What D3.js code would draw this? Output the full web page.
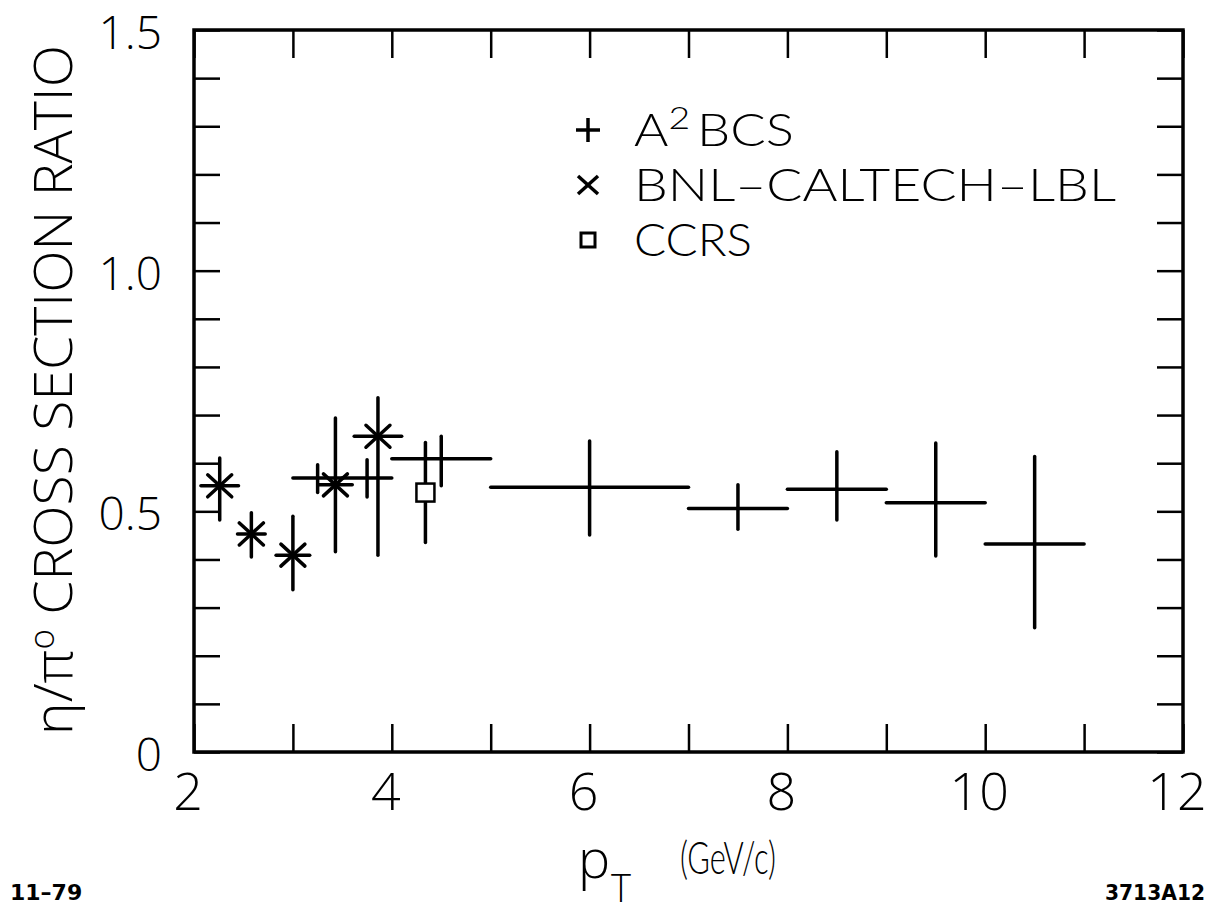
<!DOCTYPE html>
<html><head><meta charset="utf-8">
<script src="https://cdn.jsdelivr.net/npm/d3@7"></script>
<style>html,body{margin:0;padding:0;background:#fff;}svg{display:block;}</style>
</head><body>
<script>
// ---- data ----
const xTicks = [2,3,4,5,6,7,8,9,10,11,12];
const xTickLabels = [2,4,6,8,10,12];
const yTickLabels = [0,0.5,1.0,1.5];
const yTicks = d3.range(0,1.5001,0.1);

// A2BCS
const a2X   = [3.25, 3.75, 4.5, 6.0, 7.5, 8.5, 9.5, 10.5];
const a2XLo = [3.0, 3.5, 4.0, 5.0, 7.0, 8.0, 9.0, 10.0];
const a2XHi = [3.5, 4.0, 5.0, 7.0, 8.0, 9.0, 10.0, 11.0];
const a2Y   = [0.569, 0.569, 0.609, 0.550, 0.506, 0.546, 0.518, 0.432];
const a2YLo = [0.539, 0.530, 0.553, 0.451, 0.463, 0.482, 0.407, 0.258];
const a2YHi = [0.597, 0.607, 0.656, 0.646, 0.555, 0.624, 0.642, 0.614];

// BNL-CALTECH-LBL
const bnlX   = [2.26, 2.58, 3.00, 3.43, 3.86];
const bnlXErr= [0.19, 0.14, 0.17, 0.17, 0.24];
const bnlY   = [0.553, 0.453, 0.409, 0.555, 0.656];
const bnlYLo = [0.482, 0.405, 0.337, 0.416, 0.409];
const bnlYHi = [0.611, 0.497, 0.490, 0.694, 0.736];

// CCRS
const ccX   = [4.34];
const ccY   = [0.539];
const ccYLo = [0.435];
const ccYHi = [0.643];

const legendLabels = ["A2BCS","BNL\u2013CALTECH\u2013LBL","CCRS"];

// ---- drawing ----
const W=1219,H=921;
const svg=d3.select("body").append("svg").attr("width",W).attr("height",H);
const x=d3.scaleLinear().domain([2,12]).range([194,1183]);
const y=d3.scaleLinear().domain([0,1.5]).range([752,30]);
const FONT="'Open Sans','DejaVu Sans', sans-serif";
const LFONT="Lato,'Open Sans', sans-serif";
const FW=300;
const ink="#000";

// ticks via axes (inward)
function styleTicks(g){g.select(".domain").remove();g.selectAll("line").attr("stroke",ink).attr("stroke-width",2.5);}
svg.append("g").attr("transform",`translate(0,${y(0)})`)
  .call(d3.axisBottom(x).tickValues(xTicks).tickSize(-28).tickFormat("")).call(styleTicks);
svg.append("g").attr("transform",`translate(0,${y(1.5)})`)
  .call(d3.axisTop(x).tickValues(xTicks).tickSize(-28).tickFormat("")).call(styleTicks);
svg.append("g").attr("transform",`translate(${x(2)},0)`)
  .call(d3.axisLeft(y).tickValues(yTicks).tickSize(-26).tickFormat("")).call(styleTicks);
svg.append("g").attr("transform",`translate(${x(12)},0)`)
  .call(d3.axisRight(y).tickValues(yTicks).tickSize(-26).tickFormat("")).call(styleTicks);

// frame
svg.append("rect").attr("x",x(2)).attr("y",y(1.5)).attr("width",x(12)-x(2)).attr("height",y(0)-y(1.5))
  .attr("fill","none").attr("stroke",ink).attr("stroke-width",3.5);

// tick labels
svg.selectAll(".xl").data(xTickLabels).enter().append("text")
  .attr("x",d=>x(d)-6).attr("y",y(0)+58).attr("text-anchor","middle")
  .attr("font-family",FONT).attr("font-weight",FW).attr("font-size",52).attr("fill",ink).text(d=>d);
svg.selectAll(".yl").data(yTickLabels).enter().append("text")
  .attr("x",162).attr("y",d=>y(d)+19).attr("text-anchor","end")
  .attr("font-family",FONT).attr("font-weight",FW).attr("font-size",46).attr("fill",ink).text(d=>d===0?"0":d3.format(".1f")(d));

// axis titles
const yt=svg.append("text").attr("transform","translate(72,390) rotate(-90)")
  .attr("text-anchor","middle").attr("font-family",FONT).attr("font-weight",FW).attr("font-size",54).attr("fill",ink)
  .attr("textLength",690).attr("lengthAdjust","spacingAndGlyphs");
yt.append("tspan").text("\u03B7/\u03C0");
yt.append("tspan").attr("dy",-18).attr("font-size",34).text("o");
yt.append("tspan").attr("dy",18).text(" CROSS SECTION RATIO");

svg.append("text").attr("x",578).attr("y",878).attr("font-family",FONT).attr("font-weight",FW).attr("font-size",54).attr("fill",ink).text("p");
svg.append("text").attr("x",611).attr("y",902).attr("font-family",FONT).attr("font-weight",FW).attr("font-size",38).attr("fill",ink).text("T");
svg.append("text").attr("x",680).attr("y",874).attr("font-family",LFONT).attr("font-weight",FW).attr("font-size",46).attr("fill",ink)
  .attr("textLength",96).attr("lengthAdjust","spacingAndGlyphs").text("(GeV/c)");

svg.append("text").attr("x",10).attr("y",900).attr("font-family","'DejaVu Sans', sans-serif").attr("font-size",22).attr("font-weight","bold").attr("fill",ink).text("11\u201379");
svg.append("text").attr("x",1105).attr("y",900).attr("font-family","'DejaVu Sans', sans-serif").attr("font-size",22).attr("font-weight","bold").attr("fill",ink)
  .attr("textLength",100).attr("lengthAdjust","spacingAndGlyphs").text("3713A12");

const sw=3.5;
const g=svg.append("g").attr("stroke",ink).attr("stroke-width",sw).attr("stroke-linecap","round").attr("fill","none");

// A2BCS crosses
a2X.forEach((v,i)=>{
  g.append("line").attr("x1",x(a2XLo[i])).attr("x2",x(a2XHi[i])).attr("y1",y(a2Y[i])).attr("y2",y(a2Y[i]));
  g.append("line").attr("x1",x(v)).attr("x2",x(v)).attr("y1",y(a2YLo[i])).attr("y2",y(a2YHi[i]));
});

// BNL asterisks
bnlX.forEach((v,i)=>{
  const cx=x(v), cy=y(bnlY[i]);
  g.append("line").attr("x1",x(v-bnlXErr[i])).attr("x2",x(v+bnlXErr[i])).attr("y1",cy).attr("y2",cy);
  g.append("line").attr("x1",cx).attr("x2",cx).attr("y1",y(bnlYLo[i])).attr("y2",y(bnlYHi[i]));
  g.append("line").attr("x1",cx-12).attr("x2",cx+12).attr("y1",cy-11).attr("y2",cy+11);
  g.append("line").attr("x1",cx-12).attr("x2",cx+12).attr("y1",cy+11).attr("y2",cy-11);
});

// CCRS
ccX.forEach((v,i)=>{
  const cx=x(v), cy=y(ccY[i]);
  g.append("line").attr("x1",cx).attr("x2",cx).attr("y1",y(ccYHi[i])).attr("y2",cy-9);
  g.append("line").attr("x1",cx).attr("x2",cx).attr("y1",cy+9).attr("y2",y(ccYLo[i]));
  g.append("rect").attr("x",cx-9).attr("y",cy-9).attr("width",18).attr("height",18).attr("fill","#fff").attr("stroke-width",2.5);
});

// legend
const lg=svg.append("g");
const lx=588, ly=[130,185,240], tx=634;
lg.append("line").attr("x1",lx-12).attr("x2",lx+12).attr("y1",ly[0]).attr("y2",ly[0]).attr("stroke",ink).attr("stroke-width",3.5);
lg.append("line").attr("x1",lx).attr("x2",lx).attr("y1",ly[0]-12).attr("y2",ly[0]+12).attr("stroke",ink).attr("stroke-width",3.5);
lg.append("line").attr("x1",lx-10).attr("x2",lx+10).attr("y1",ly[1]-9).attr("y2",ly[1]+9).attr("stroke",ink).attr("stroke-width",3.5);
lg.append("line").attr("x1",lx-10).attr("x2",lx+10).attr("y1",ly[1]+9).attr("y2",ly[1]-9).attr("stroke",ink).attr("stroke-width",3.5);
lg.append("rect").attr("x",lx-7).attr("y",ly[2]-7).attr("width",14).attr("height",14).attr("fill","none").attr("stroke",ink).attr("stroke-width",3);

const t0=lg.append("text").attr("x",tx).attr("y",ly[0]+16).attr("font-family",LFONT).attr("font-weight",FW).attr("font-size",45).attr("fill",ink)
  .attr("textLength",160).attr("lengthAdjust","spacingAndGlyphs");
t0.append("tspan").text(legendLabels[0][0]);
t0.append("tspan").attr("dy",-17).attr("font-size",32).text(legendLabels[0][1]);
t0.append("tspan").attr("dy",17).attr("dx",6).text(legendLabels[0].slice(2));
lg.append("text").attr("x",tx).attr("y",ly[1]+16).attr("font-family",LFONT).attr("font-weight",FW).attr("font-size",45).attr("fill",ink)
  .attr("textLength",482).attr("lengthAdjust","spacingAndGlyphs").text(legendLabels[1]);
lg.append("text").attr("x",tx).attr("y",ly[2]+16).attr("font-family",LFONT).attr("font-weight",FW).attr("font-size",45).attr("fill",ink)
  .attr("textLength",118).attr("lengthAdjust","spacingAndGlyphs").text(legendLabels[2]);
</script>
</body></html>
